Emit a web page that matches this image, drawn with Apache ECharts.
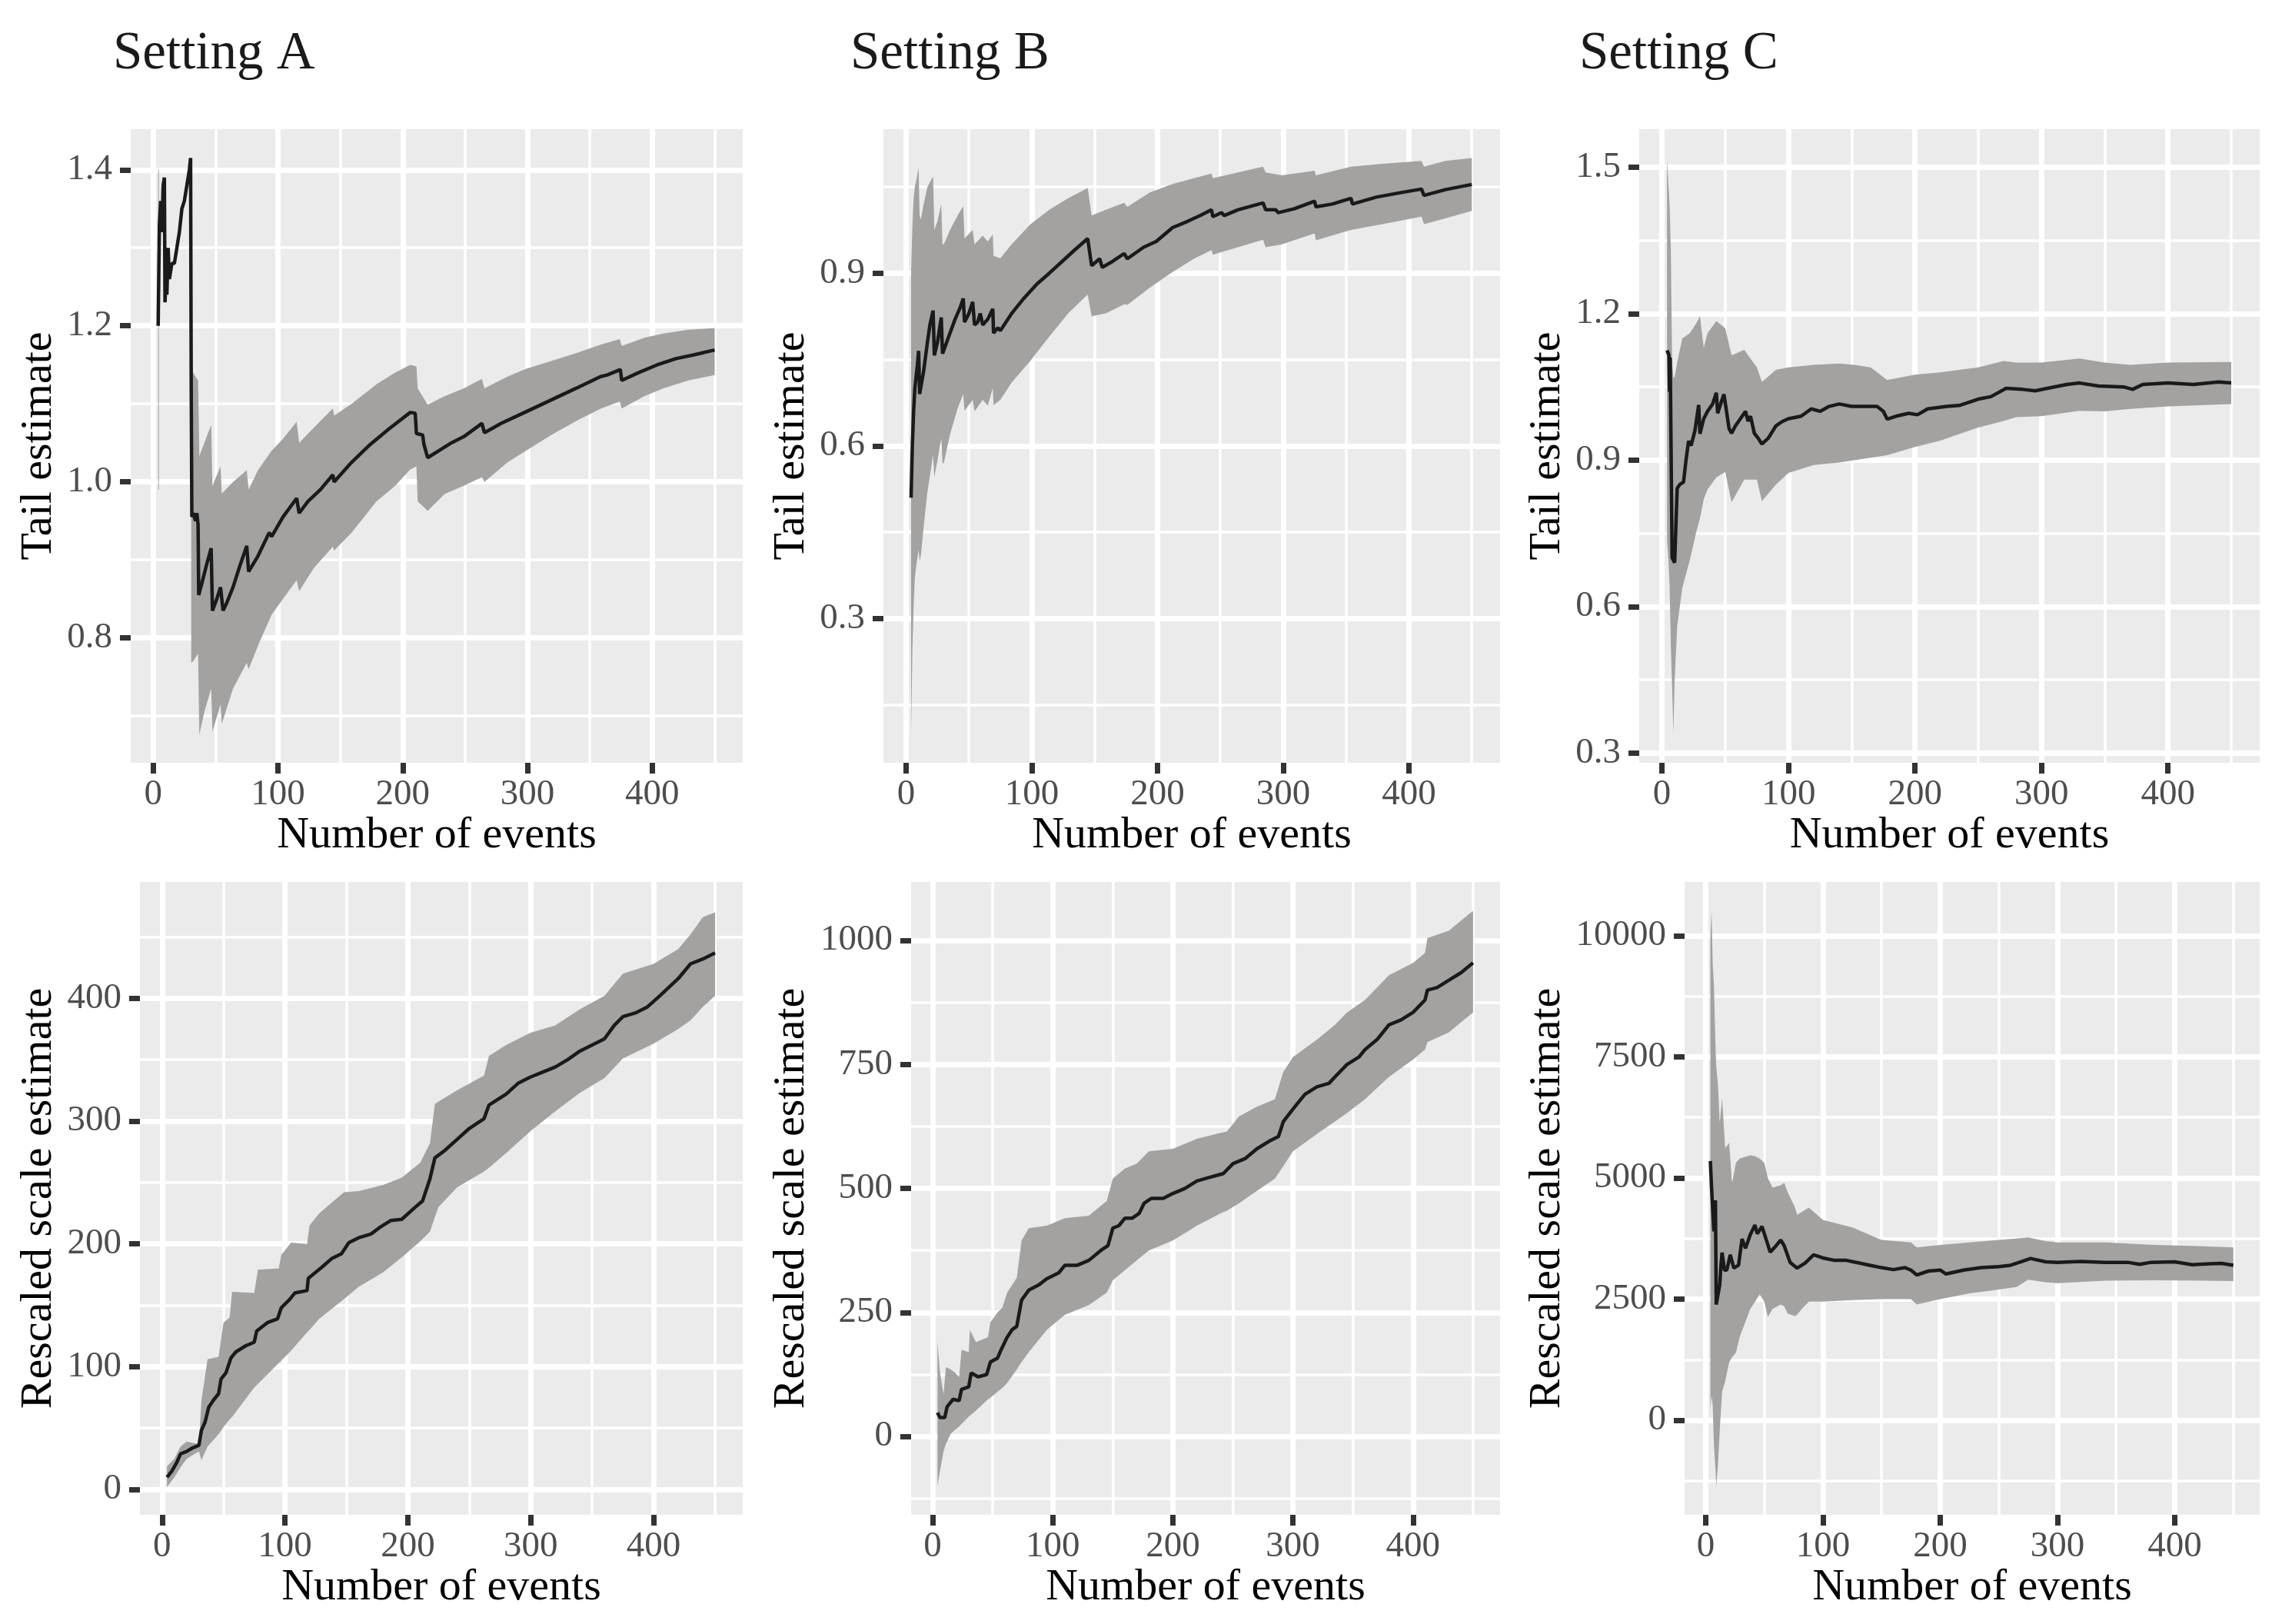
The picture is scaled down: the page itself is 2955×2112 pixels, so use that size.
<!DOCTYPE html>
<html><head><meta charset="utf-8">
<script src="https://cdn.jsdelivr.net/npm/echarts@6/dist/echarts.min.js"></script>
<style>html,body{margin:0;padding:0;background:#fff}#c{width:2955px;height:2112px}</style>
</head><body><div id="c"></div><script>
// ---------- DATA ----------
const titles = ['Setting A', 'Setting B', 'Setting C'];
const xTicks = [0, 100, 200, 300, 400];
const xMinorTicks = [50, 150, 250, 350, 450];

// Setting A - tail estimate
const A_tail_x   = [4,5,6,7,8,9,9.5,10,11,12,13,14,15,17,19,21,23,25,27,29,30,30.5,31,32,34,35,36,36.5,39,43,46.5,47.5,51,54,56,59,64,69,75,76.5,84,93,95,104,115,117,124,134,144,145,159,174,189,206,210,211,216,217,220,229,239,249,263.5,265.5,279,299,319,339,358.6,364,374.4,375.5,389,404,419,434,450];
const A_tail_est = [1.20,1.33,1.36,1.32,1.38,1.39,1.23,1.25,1.24,1.30,1.26,1.27,1.28,1.28,1.30,1.32,1.35,1.36,1.38,1.40,1.415,1.12,0.955,0.96,0.95,0.96,0.945,0.855,0.87,0.895,0.915,0.835,0.85,0.865,0.835,0.845,0.865,0.89,0.918,0.885,0.905,0.935,0.93,0.955,0.979,0.96,0.975,0.99,1.009,1.0,1.025,1.048,1.068,1.089,1.088,1.062,1.06,1.048,1.031,1.04,1.05,1.058,1.075,1.063,1.075,1.09,1.105,1.12,1.135,1.137,1.144,1.13,1.14,1.15,1.158,1.163,1.169];
const A_tail_bx  = [4,4.6,5,30.5,32,34,36,37,41,46.5,47.5,54,55,64,75,76.5,84,95,104,115,117,129,144,145,159,179,194,206,211,212,220,234,249,263.5,265.5,284,299,319,339,359,374,375.5,394,409,429,450];
const A_tail_lo  = [0.99,0.99,null,0.768,0.77,0.775,0.78,0.676,0.705,0.735,0.68,0.715,0.69,0.735,0.768,0.76,0.79,0.83,0.85,0.874,0.86,0.89,0.917,0.912,0.935,0.975,0.995,1.016,1.02,0.975,0.963,0.985,0.995,1.006,1.0,1.025,1.04,1.06,1.078,1.094,1.103,1.094,1.11,1.12,1.13,1.137];
const A_tail_hi  = [1.40,1.40,null,1.151,1.14,1.135,1.13,1.033,1.05,1.073,0.995,1.02,0.985,1.00,1.015,0.99,1.015,1.04,1.055,1.077,1.05,1.07,1.094,1.085,1.10,1.125,1.14,1.150,1.148,1.12,1.099,1.11,1.12,1.132,1.12,1.135,1.145,1.155,1.165,1.176,1.183,1.174,1.185,1.19,1.195,1.197];

// Setting B - tail estimate
const B_tail_x   = [4,5,6,7,8,9,10,10.8,11.8,14,17,19,21.5,22.5,25,28,29,30,34,39,43,45.5,46.5,50,53,54.5,57,59,61,65,69,69.6,73,75,84,94,104,114,124,134,144.5,147.6,154,156,164,173.5,176,189,199,212,224,234,243,244,251,253,264,274,284,286,294,296,309,325,326,339,354,355,374,394,410,412,429,450];
const B_tail_est = [0.51,0.60,0.66,0.70,0.72,0.74,0.765,0.69,0.688,0.73,0.78,0.81,0.835,0.757,0.78,0.823,0.76,0.76,0.79,0.82,0.84,0.856,0.815,0.83,0.85,0.81,0.815,0.83,0.81,0.82,0.838,0.796,0.805,0.80,0.83,0.857,0.881,0.90,0.92,0.94,0.96,0.913,0.925,0.91,0.92,0.934,0.925,0.945,0.955,0.979,0.99,1.0,1.01,0.998,1.005,1.0,1.01,1.016,1.022,1.01,1.01,1.005,1.012,1.025,1.015,1.02,1.03,1.02,1.032,1.04,1.046,1.035,1.045,1.054];
const B_tail_bx  = [4,5,6,7,8,10,10.8,11.8,14,17,21.5,22.5,25,28,29,30,35,41,45.5,46.5,53,54.5,61,65,69,69.6,75,84,99,114,129,144.5,147.6,159,173.5,176,194,212,229,243,244,264,284,286,299,325,326,354,379,410,412,429,450];
const B_tail_lo  = [0.10,0.24,0.32,0.37,0.39,0.42,0.40,0.41,0.46,0.52,0.584,0.546,0.575,0.613,0.57,0.57,0.62,0.665,0.69,0.661,0.68,0.66,0.68,0.67,0.70,0.671,0.68,0.71,0.748,0.79,0.83,0.863,0.825,0.83,0.846,0.845,0.875,0.902,0.925,0.94,0.932,0.945,0.958,0.945,0.95,0.969,0.957,0.975,0.985,0.998,0.985,0.995,1.008];
const B_tail_hi  = [0.90,0.98,1.03,1.05,1.06,1.083,1.0,0.993,1.02,1.05,1.068,0.975,0.99,1.02,0.95,0.95,0.975,1.0,1.016,0.96,0.975,0.95,0.965,0.955,0.967,0.93,0.926,0.95,0.985,1.01,1.03,1.048,1.0,1.01,1.022,1.015,1.04,1.055,1.065,1.073,1.065,1.075,1.085,1.075,1.07,1.078,1.07,1.085,1.09,1.095,1.085,1.095,1.10];

// Setting C - tail estimate
const C_tail_x   = [4,5.5,6,6.5,7.5,8,10,12,14,17,19,21,23,26,29,30,33,36,40,43,44,47,49,51,53,55,58,62,66,68,70,73,76,79,84,90,95,100,110,118,125,132,140,150,160,170,175,178,185,195,202,210,225,235,250,260,272,285,295,310,320,330,345,365,372,380,400,420,440,450];
const C_tail_est = [1.125,1.115,1.04,1.11,1.11,0.70,0.69,0.842,0.85,0.855,0.90,0.939,0.93,0.96,1.013,0.954,0.985,1.0,1.015,1.038,0.996,1.02,1.035,1.0,0.965,0.955,0.97,0.985,1.0,0.98,0.99,0.955,0.945,0.933,0.945,0.97,0.979,0.985,0.99,1.005,1.0,1.01,1.015,1.01,1.01,1.01,1.0,0.984,0.99,0.996,0.993,1.005,1.01,1.012,1.025,1.03,1.047,1.045,1.042,1.05,1.055,1.058,1.052,1.05,1.045,1.055,1.058,1.055,1.06,1.058];
const C_tail_bx  = [4,5,6,7,8,9,10,12,16,22,27,30,33,36,43,50,55,65,75,79,90,100,120,140,152,165,178,200,220,250,270,280,300,330,350,370,400,450];
const C_tail_lo  = [0.735,0.70,0.644,0.52,0.434,0.341,0.45,0.559,0.638,0.695,0.752,0.78,0.82,0.84,0.865,0.876,0.814,0.86,0.86,0.816,0.85,0.874,0.89,0.895,0.90,0.905,0.91,0.927,0.94,0.967,0.98,0.988,0.99,1.001,1.0,1.005,1.01,1.015];
const C_tail_hi  = [1.516,1.47,1.424,1.33,1.10,1.069,1.07,1.10,1.149,1.16,1.18,1.195,1.13,1.16,1.185,1.17,1.115,1.126,1.09,1.06,1.085,1.09,1.095,1.098,1.095,1.09,1.064,1.075,1.08,1.09,1.103,1.10,1.10,1.108,1.10,1.095,1.10,1.101];

// Setting A - rescaled scale estimate
const A_scale_x   = [4,8,12,15,20,25,30,32,35,38,42,46,48,52,56,60,68,75,77,82,86,94,97,104,108,118,119,130,138,146,152,160,170,178,186,195,205,212,218,222,230,240,250,262,266,280,290,300,310,320,330,340,350,360,368,375,385,395,405,420,430,440,450];
const A_scale_est = [10,15,22,29,31,34,36,48,55,67,73,78,90,95,107,112,117,120,129,133,136,139,148,155,160,162,172,181,188,192,201,205,208,214,219,220,229,235,253,270,276,285,294,302,313,322,331,336,340,344,350,357,362,367,378,385,388,393,402,416,428,432,437];
const A_scale_bx  = [4,10,15,20,30,32,37,46,50,55,57,75,78,95,97,105,118,120,128,148,160,180,195,210,218,222,225,240,262,266,280,300,320,340,360,375,400,420,430,440,450];
const A_scale_lo  = [2,10,18,25,31,24,35,45,51,57,59,83,86,103,105,113,128,130,139,155,165,177,189,202,210,222,230,246,259,262,274,292,308,323,335,351,363,375,382,393,402];
const A_scale_hi  = [19,25,35,39,37,72,106,108,136,140,161,160,179,180,191,201,200,215,225,242,243,248,254,266,282,314,316,325,337,353,362,372,378,391,402,420,428,440,452,466,470];

// Setting B - rescaled scale estimate
const B_scale_x   = [4,6,10,12,17,22,24,30,32,38,45,48,54,57,62,66,70,74,80,88,95,105,110,120,130,140,146,150,155,160,166,172,176,182,192,200,210,220,230,242,250,260,270,280,288,292,300,310,320,330,335,345,355,360,370,380,390,400,410,412,420,430,440,450];
const B_scale_est = [48,38,38,60,75,72,95,100,128,120,125,150,158,175,200,215,222,275,295,305,318,330,345,345,355,375,385,420,425,440,440,450,470,480,480,490,500,515,522,530,550,560,580,595,605,635,660,690,705,712,725,750,765,780,800,830,840,855,880,900,905,920,935,955];
const B_scale_bx  = [4,6,9,11,15,18,22,24,30,31,36,46,48,54,58,62,70,74,80,95,110,130,145,150,160,170,180,200,220,240,245,255,270,285,292,300,320,335,345,360,380,400,410,412,430,440,450];
const B_scale_lo  = [-100,-70,-30,-15,5,12,20,25,40,42,52,75,78,90,98,108,135,150,170,215,245,265,290,315,335,355,375,395,425,450,455,470,495,520,545,575,610,635,652,680,725,760,780,795,815,835,855];
const B_scale_hi  = [190,130,85,140,135,130,120,175,170,215,190,200,230,250,260,290,320,395,420,425,440,445,475,520,540,550,575,580,600,612,615,645,665,680,735,765,800,830,855,880,930,955,975,1005,1020,1040,1060];

// Setting C - rescaled scale estimate
const C_scale_x   = [4,5,7,8.3,9,10,12,13,14,16,18,21,24,28,31,34,38,42,44,48,52,55,60,64,67,72,78,85,92,100,110,120,130,140,150,160,170,175,180,190,200,205,220,235,250,260,270,277,290,300,320,340,360,370,380,400,415,430,440,450];
const C_scale_est = [5350,4800,3900,4540,2390,2400,2800,3200,3460,3100,3100,3415,3140,3200,3740,3550,3830,4030,3850,4000,3700,3470,3600,3720,3600,3260,3140,3250,3415,3350,3300,3300,3250,3200,3150,3110,3150,3100,3000,3080,3100,3020,3100,3150,3170,3200,3280,3340,3270,3260,3280,3260,3260,3220,3260,3270,3210,3230,3240,3200];
const C_scale_bx  = [4,5,6,7,8.3,9,10.4,12,14,16.6,20,22.5,25.8,29,33,38,42,46,50,53,57,64,67,70,76,78,82,88,100,125,150,175,180,200,225,250,265,275,290,300,341,383,425,450];
const C_scale_lo  = [240,500,300,-500,-1000,-1356,-944,-200,595,800,1200,1300,1400,1723,1979,2300,2441,2600,2450,2133,2300,2390,2350,2200,2150,2180,2300,2450,2450,2480,2500,2500,2390,2500,2620,2700,2750,2900,2850,2830,2880,2890,2880,2872];
const C_scale_hi  = [10000,10513,9400,9005,7774,7300,6954,6133,6646,5620,5723,4902,5313,5400,5430,5466,5450,5400,5313,5000,4800,4850,4902,4700,4400,4236,4300,4390,4133,3979,3723,3672,3569,3620,3672,3723,3750,3774,3700,3672,3672,3620,3590,3569];

// y axis ticks per panel
const A_tail_yTicks = [0.8, 1.0, 1.2, 1.4],  A_tail_yMinor = [0.7, 0.9, 1.1, 1.3];
const B_tail_yTicks = [0.3, 0.6, 0.9],       B_tail_yMinor = [0.15, 0.45, 0.75, 1.05];
const C_tail_yTicks = [0.3, 0.6, 0.9, 1.2, 1.5], C_tail_yMinor = [0.45, 0.75, 1.05, 1.35];
const A_scale_yTicks = [0, 100, 200, 300, 400], A_scale_yMinor = [50, 150, 250, 350, 450];
const B_scale_yTicks = [0, 250, 500, 750, 1000], B_scale_yMinor = [-125, 125, 375, 625, 875];
const C_scale_yTicks = [0, 2500, 5000, 7500, 10000], C_scale_yMinor = [-1250, 1250, 3750, 6250, 8750];

// ---------- LAYOUT / STYLE ----------
const FONT = 'Liberation Serif';
const X_MIN = -18.0, X_MAX = 472.5;
const TOP = {top: 168, height: 824};
const BOT = {top: 1147, height: 823};
const BAND_FILL = '#A3A2A1';

const panels = [
  {g: {left: 170, right: 966}, row: TOP, yr: [0.640, 1.452], yt: A_tail_yTicks, ym: A_tail_yMinor, dec: 1, name: 'Tail estimate', gap: 90,
   x: A_tail_x, est: A_tail_est, bx: A_tail_bx, lo: A_tail_lo, hi: A_tail_hi},
  {g: {left: 1149, right: 1951}, row: TOP, yr: [0.0496, 1.150], yt: B_tail_yTicks, ym: B_tail_yMinor, dec: 1, name: 'Tail estimate', gap: 90,
   x: B_tail_x, est: B_tail_est, bx: B_tail_bx, lo: B_tail_lo, hi: B_tail_hi},
  {g: {left: 2132, right: 2939}, row: TOP, yr: [0.280, 1.578], yt: C_tail_yTicks, ym: C_tail_yMinor, dec: 1, name: 'Tail estimate', gap: 90,
   x: C_tail_x, est: C_tail_est, bx: C_tail_bx, lo: C_tail_lo, hi: C_tail_hi},
  {g: {left: 182, right: 966}, row: BOT, yr: [-20.6, 494.7], yt: A_scale_yTicks, ym: A_scale_yMinor, dec: 0, name: 'Rescaled scale estimate', gap: 102,
   x: A_scale_x, est: A_scale_est, bx: A_scale_bx, lo: A_scale_lo, hi: A_scale_hi},
  {g: {left: 1185, right: 1951}, row: BOT, yr: [-158, 1118], yt: B_scale_yTicks, ym: B_scale_yMinor, dec: 0, name: 'Rescaled scale estimate', gap: 126,
   x: B_scale_x, est: B_scale_est, bx: B_scale_bx, lo: B_scale_lo, hi: B_scale_hi},
  {g: {left: 2191, right: 2939}, row: BOT, yr: [-1949, 11107], yt: C_scale_yTicks, ym: C_scale_yMinor, dec: 0, name: 'Rescaled scale estimate', gap: 149,
   x: C_scale_x, est: C_scale_est, bx: C_scale_bx, lo: C_scale_lo, hi: C_scale_hi}
];

function bandRenderer(p) {
  return function (params, api) {
    if (params.dataIndex !== 0) return null;
    const children = [];
    let run = [];
    const flush = () => {
      if (run.length >= 2) {
        const top = run.map(k => api.coord([p.bx[k], p.hi[k]]));
        const bot = run.map(k => api.coord([p.bx[k], p.lo[k]])).reverse();
        children.push({type: 'polygon', shape: {points: top.concat(bot)}, style: {fill: BAND_FILL, stroke: null}});
      }
      run = [];
    };
    p.bx.forEach((x, k) => { if (p.lo[k] == null || p.hi[k] == null) flush(); else run.push(k); });
    flush();
    return {type: 'group', children: children};
  };
}

const grids = [], xAxes = [], yAxes = [], series = [];
const tickStyle = {show: true, length: 14, lineStyle: {color: '#333333', width: 7}};
const xLabelStyle = {color: '#4D4D4D', fontSize: 47, fontFamily: FONT, margin: 18};
const yLabelStyle = {color: '#4D4D4D', fontSize: 47, fontFamily: FONT, margin: 24};
const MAJOR_W = 7, MINOR_W = 3.5;

panels.forEach((p, i) => {
  grids.push({left: p.g.left, top: p.row.top, width: p.g.right - p.g.left, height: p.row.height,
    show: true, backgroundColor: '#EBEBEB', borderWidth: 0, containLabel: false});
  xAxes.push({type: 'value', gridIndex: i, min: X_MIN, max: X_MAX, position: 'bottom',
    axisLine: {show: false, onZero: false},
    axisTick: Object.assign({customValues: xTicks}, tickStyle),
    axisLabel: Object.assign({customValues: xTicks}, xLabelStyle),
    splitLine: {show: true, lineStyle: {color: '#FFFFFF', width: MAJOR_W}},
    name: 'Number of events', nameLocation: 'middle', nameGap: 40,
    nameTextStyle: {color: '#000000', fontSize: 58, fontFamily: FONT}});
  xAxes.push({type: 'value', gridIndex: i, min: X_MIN, max: X_MAX, position: 'top',
    axisLine: {show: false, onZero: false}, axisTick: {show: false, customValues: xMinorTicks},
    axisLabel: {show: false}, splitLine: {show: true, lineStyle: {color: '#FFFFFF', width: MINOR_W}}});
  yAxes.push({type: 'value', gridIndex: i, min: p.yr[0], max: p.yr[1], position: 'left',
    axisLine: {show: false, onZero: false},
    axisTick: Object.assign({customValues: p.yt}, tickStyle),
    axisLabel: Object.assign({customValues: p.yt, formatter: v => v.toFixed(p.dec)}, yLabelStyle),
    splitLine: {show: true, lineStyle: {color: '#FFFFFF', width: MAJOR_W}},
    name: p.name, nameLocation: 'middle', nameGap: p.gap, nameRotate: 90,
    nameTextStyle: {color: '#000000', fontSize: 58, fontFamily: FONT}});
  yAxes.push({type: 'value', gridIndex: i, min: p.yr[0], max: p.yr[1], position: 'right',
    axisLine: {show: false, onZero: false}, axisTick: {show: false, customValues: p.ym},
    axisLabel: {show: false}, splitLine: {show: true, lineStyle: {color: '#FFFFFF', width: MINOR_W}}});

  series.push({type: 'custom', xAxisIndex: 2 * i, yAxisIndex: 2 * i, z: 2, silent: true, clip: true,
    data: p.bx.map((x, k) => [x, p.lo[k], p.hi[k]]), encode: {x: 0, y: [1, 2]},
    renderItem: bandRenderer(p)});
  series.push({type: 'line', xAxisIndex: 2 * i, yAxisIndex: 2 * i,
    data: p.x.map((x, k) => [x, p.est[k]]), symbol: 'none', silent: true, z: 3,
    lineStyle: {color: '#1A1A1A', width: 4.5}});
});

const titleLefts = [142, 1101, 2049];
const option = {
  animation: false,
  backgroundColor: '#FFFFFF',
  title: titles.map((t, i) => ({text: t, left: titleLefts[i], top: 31,
    textStyle: {fontSize: 69, fontWeight: 'normal', color: '#1A1A1A', fontFamily: FONT}})),
  grid: grids, xAxis: xAxes, yAxis: yAxes, series: series
};
const chart = echarts.init(document.getElementById('c'), null, {renderer: 'canvas', width: 2955, height: 2112});
chart.setOption(option);
</script></body></html>
